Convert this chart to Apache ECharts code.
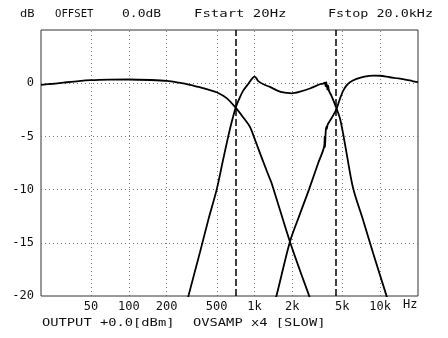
<!DOCTYPE html>
<html>
<head>
<meta charset="utf-8">
<script src="https://cdn.jsdelivr.net/npm/echarts@6/dist/echarts.min.js"></script>
<style>
html,body{margin:0;padding:0;background:#fff;}
#chart{width:448px;height:338px;}
</style>
</head>
<body>
<div id="chart"></div>
<script>
// ---- data ----
const freqTicks = [50, 100, 200, 500, 1000, 2000, 5000, 10000];
const freqTickLabels = ['50', '100', '200', '500', '1k', '2k', '5k', '10k'];
const crossoverFreqs = [700, 4500];

const wooferFreq = [20, 25, 30, 40, 50, 70, 100, 150, 200, 250, 306, 370, 442, 500, 600, 708, 800, 920, 1008, 1100, 1175, 1327, 1369, 1593, 1914, 2300, 2725, 3000];
const wooferDb   = [-0.15, -0.05, 0.05, 0.2, 0.28, 0.33, 0.35, 0.3, 0.22, 0.05, -0.15, -0.4, -0.65, -0.85, -1.4, -2.3, -3.1, -4.1, -5.3, -6.5, -7.4, -9.0, -9.4, -11.9, -14.9, -17.6, -20.0, -21.5];

const midFreq = [285, 301, 368, 430, 500, 560, 618, 660, 708, 760, 813, 900, 960, 1000, 1030, 1071, 1200, 1327, 1593, 1800, 1972, 2300, 2761, 3318, 3500, 3632, 3680, 3720, 3760, 3800, 3850, 3910, 4100, 4500, 4785, 5100, 5407, 6100, 7329, 8805, 11110, 11600];
const midDb   = [-21, -19.8, -15.9, -12.8, -10.0, -7.3, -5.0, -3.6, -2.3, -1.4, -0.7, 0.0, 0.45, 0.62, 0.5, 0.2, -0.15, -0.35, -0.8, -0.9, -0.95, -0.8, -0.5, -0.1, -0.05, 0.05, -0.3, 0.1, -0.2, -0.6, -0.2, -0.7, -1.2, -2.4, -3.3, -4.9, -6.6, -9.9, -12.9, -16.0, -19.8, -20.6];

const tweeterFreq = [1400, 1517, 1914, 2297, 2712, 3214, 3589, 3620, 3640, 3680, 3720, 3760, 3820, 4100, 4500, 4785, 5083, 5407, 5742, 6490, 7500, 8805, 10000, 11930, 14000, 16240, 18000, 20000];
const tweeterDb   = [-21.2, -19.7, -14.9, -12.3, -10.0, -7.5, -5.9, -5.0, -6.0, -4.7, -4.1, -4.3, -3.9, -3.3, -2.4, -1.47, -0.7, -0.2, 0.1, 0.4, 0.62, 0.72, 0.7, 0.56, 0.45, 0.32, 0.2, 0.1];

// ---- chart ----
const FONT = '"DejaVu Sans Mono", monospace';
const lg = Math.log10;
const toPairs = (fs, ds) => fs.map((f, i) => [lg(f), ds[i]]);

const chart = echarts.init(document.getElementById('chart'), null, {renderer: 'canvas'});

function headText(txt, x, y, sx) {
  return {
    type: 'text', x: x, y: y, scaleX: sx, silent: true,
    style: {text: txt, fontFamily: FONT, fontSize: 11, fill: '#111', verticalAlign: 'middle', align: 'left'}
  };
}

const curveStyle = {color: '#000', width: 1.8};

chart.setOption({
  animation: false,
  backgroundColor: '#fff',
  grid: {left: 41, top: 30, width: 377, height: 266, show: true, borderColor: '#333', borderWidth: 1, backgroundColor: 'transparent'},
  xAxis: {
    type: 'value', min: lg(20), max: lg(20000),
    axisLine: {show: false}, axisTick: {show: false}, splitLine: {show: false},
    axisLabel: {
      customValues: freqTicks.map(lg),
      formatter: function (v) {
        const i = freqTicks.findIndex(f => Math.abs(lg(f) - v) < 1e-6);
        return i >= 0 ? freqTickLabels[i] : '';
      },
      fontFamily: FONT, fontSize: 12, color: '#111', margin: 5
    }
  },
  yAxis: {
    type: 'value', min: -20, max: 5, interval: 5,
    axisLine: {show: false}, axisTick: {show: false},
    splitLine: {show: true, showMinLine: false, showMaxLine: false, lineStyle: {type: [1, 3], color: '#777', width: 1}},
    axisLabel: {formatter: v => (v === 5 ? '' : String(v)), fontFamily: FONT, fontSize: 12, color: '#111', margin: 7}
  },
  series: [
    {
      type: 'line', data: toPairs(wooferFreq, wooferDb), showSymbol: false, smooth: 0.3, lineStyle: curveStyle, clip: true, z: 5,
      markLine: {
        silent: true, symbol: ['none', 'none'], label: {show: false}, animation: false,
        lineStyle: {type: [1, 3], color: '#777', width: 1},
        data: freqTicks.map(f => ({xAxis: lg(f)}))
      }
    },
    {
      type: 'line', data: toPairs(midFreq, midDb), showSymbol: false, smooth: 0.3, lineStyle: curveStyle, clip: true, z: 5,
      markLine: {
        silent: true, symbol: ['none', 'none'], label: {show: false}, animation: false,
        lineStyle: {type: [7, 3], color: '#000', width: 1.5},
        data: crossoverFreqs.map(f => ({xAxis: lg(f)}))
      }
    },
    {type: 'line', data: toPairs(tweeterFreq, tweeterDb), showSymbol: false, smooth: 0.3, lineStyle: curveStyle, clip: true, z: 5}
  ],
  graphic: [
    headText('dB', 20, 14, 1.1),
    headText('OFFSET', 55, 14, 0.97),
    headText('0.0dB', 122, 14, 1.18),
    headText('Fstart 20Hz', 194, 14, 1.27),
    headText('Fstop 20.0kHz', 328, 14, 1.22),
    headText('OUTPUT +0.0[dBm]', 42, 323, 1.25),
    headText('OVSAMP x4 [SLOW]', 193, 323, 1.25),
    {type: 'text', x: 403, y: 305, silent: true,
     style: {text: 'Hz', fontFamily: FONT, fontSize: 12, fill: '#111', verticalAlign: 'middle', align: 'left'}}
  ]
});
</script>
</body>
</html>
